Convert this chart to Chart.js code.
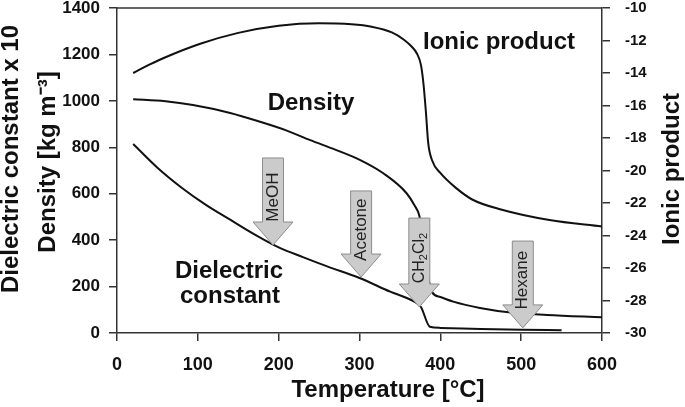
<!DOCTYPE html>
<html>
<head>
<meta charset="utf-8">
<script src="https://cdn.jsdelivr.net/npm/chart.js"></script>
<style>
html, body { margin: 0; padding: 0; background: #fff; }
canvas { display: block; }
</style>
</head>
<body>
<canvas id="myChart" width="685" height="407"></canvas>
<script>
"use strict";

// ionic product (right axis)
var ionicTemp = [20, 40, 60, 103, 150, 200, 250, 290, 315, 340, 355, 365, 371, 376, 379, 382, 385, 390, 400, 420, 440, 475, 535, 600];
var ionicVals = [-14.0, -13.49, -13.03, -12.2, -11.53, -11.09, -10.94, -11.0, -11.15, -11.5, -11.95, -12.4, -12.8, -13.5, -14.6, -16.3, -18.3, -19.4, -20.15, -21.1, -21.8, -22.4, -23.05, -23.45];

// density [kg m-3] (left axis)
var densTemp = [20, 60, 94, 140, 177, 210, 239, 270, 301, 329, 358, 368, 374, 379, 384, 390, 400, 416, 449, 490, 532, 600];
var densVals = [1007, 998, 982, 948, 910, 872, 831, 790, 745, 689, 603, 550, 505, 400, 260, 175, 155, 135, 108, 87, 78, 68];

// dielectric constant x 10 (left axis)
var dielTemp = [20, 50, 80, 110, 140, 170, 200, 230, 260, 300, 338, 366, 376, 387, 400, 450, 500, 550];
var dielVals = [814, 712, 626, 552, 488, 425, 369, 327, 287, 237, 178, 138, 112, 27, 22, 17, 14, 12];

// solvent arrows
var solvents = ["MeOH", "Acetone", "CH2Cl2", "Hexane"];
var solventTemp = [193, 302, 374, 502];
var arrowTop = [754, 612, 495, 396];
var arrowTip = [379, 241, 112, 22];

var xTicks = [0, 100, 200, 300, 400, 500, 600];

var FONT = '"Liberation Sans", Arial, Helvetica, sans-serif';
var INK = "#111";

function pts(xs, ys) {
    return xs.map(function (x, i) { return { x: x, y: ys[i] }; });
}

function noPad(s) {
    s.paddingTop = 0;
    s.paddingBottom = 0;
    s.paddingLeft = 0;
    s.paddingRight = 0;
}

Chart.defaults.font.family = FONT;

var drawExtras = {
    id: "extras",
    afterDatasetsDraw: function (chart) {
        var ctx = chart.ctx;
        var xs = chart.scales.x, ys = chart.scales.y;
        for (var i = 0; i < solvents.length; i++) {
            var cx = xs.getPixelForValue(solventTemp[i]);
            var top = ys.getPixelForValue(arrowTop[i]);
            var tip = ys.getPixelForValue(arrowTip[i]);
            var sw = 10.5, hw = 20, hl = 23;
            ctx.save();
            ctx.beginPath();
            ctx.moveTo(cx - sw, top);
            ctx.lineTo(cx + sw, top);
            ctx.lineTo(cx + sw, tip - hl);
            ctx.lineTo(cx + hw, tip - hl);
            ctx.lineTo(cx, tip);
            ctx.lineTo(cx - hw, tip - hl);
            ctx.lineTo(cx - sw, tip - hl);
            ctx.closePath();
            ctx.fillStyle = "#cbcbcb";
            ctx.fill();
            ctx.strokeStyle = "#8c8c8c";
            ctx.lineWidth = 1;
            ctx.stroke();

            // label, rotated
            ctx.translate(cx, top + 0.45 * (tip - top));
            ctx.rotate(-Math.PI / 2);
            ctx.fillStyle = "#222";
            ctx.textBaseline = "middle";
            if (solvents[i] === "CH2Cl2") {
                var parts = [["CH", 0], ["2", 1], ["Cl", 0], ["2", 1]];
                var total = 0;
                parts.forEach(function (p) {
                    ctx.font = (p[1] ? "11px " : "16px ") + FONT;
                    total += ctx.measureText(p[0]).width;
                });
                var x0 = -total / 2;
                ctx.textAlign = "left";
                parts.forEach(function (p) {
                    ctx.font = (p[1] ? "11px " : "16px ") + FONT;
                    ctx.fillText(p[0], x0, p[1] ? 5 : 0);
                    x0 += ctx.measureText(p[0]).width;
                });
            } else {
                ctx.font = "17px " + FONT;
                ctx.textAlign = "center";
                ctx.fillText(solvents[i], 0, 0);
            }
            ctx.restore();
        }
    },
    afterDraw: function (chart) {
        var ctx = chart.ctx;
        var a = chart.chartArea;
        ctx.save();
        // top frame line
        ctx.strokeStyle = "#333";
        ctx.lineWidth = 1.5;
        ctx.beginPath();
        ctx.moveTo(a.left, a.top);
        ctx.lineTo(a.right, a.top);
        ctx.stroke();

        ctx.fillStyle = INK;
        ctx.font = "bold 24px " + FONT;
        ctx.textBaseline = "alphabetic";
        ctx.textAlign = "left";
        ctx.fillText("Ionic product", 423, 49);
        ctx.textAlign = "center";
        ctx.fillText("Density", 311, 110);
        ctx.fillText("Dielectric", 229, 278);
        ctx.fillText("constant", 230, 303);
        ctx.fillText("Temperature [\u00B0C]", 388, 397);

        // left title (two lines)
        ctx.save();
        ctx.translate(18, 159);
        ctx.rotate(-Math.PI / 2);
        ctx.fillText("Dielectric constant x 10", 0, 0);
        ctx.restore();
        ctx.save();
        ctx.translate(55, 162);
        ctx.rotate(-Math.PI / 2);
        ctx.fillText("Density [kg m\u207B\u00B3]", 0, 0);
        ctx.restore();
        // right title
        ctx.save();
        ctx.translate(679, 169);
        ctx.rotate(-Math.PI / 2);
        ctx.fillText("Ionic product", 0, 0);
        ctx.restore();
        ctx.restore();
    }
};

var lineStyle = {
    borderColor: INK,
    borderWidth: 2,
    pointRadius: 0,
    fill: false,
    cubicInterpolationMode: "monotone"
};

var plain = function (v) { return String(v); };

var ctx = document.getElementById("myChart");
var myChart = new Chart(ctx, {
    type: "line",
    data: {
        datasets: [
            Object.assign({ label: "Ionic product", data: pts(ionicTemp, ionicVals), yAxisID: "y2" }, lineStyle),
            Object.assign({ label: "Density", data: pts(densTemp, densVals), yAxisID: "y" }, lineStyle),
            Object.assign({ label: "Dielectric constant", data: pts(dielTemp, dielVals), yAxisID: "y" }, lineStyle)
        ]
    },
    options: {
        responsive: false,
        animation: false,
        layout: { padding: { top: 8, left: 0, right: 0, bottom: 0 } },
        plugins: { legend: { display: false }, tooltip: { enabled: false } },
        scales: {
            x: {
                type: "linear",
                position: "bottom",
                min: 0,
                max: 600,
                afterBuildTicks: function (s) { s.ticks = xTicks.map(function (v) { return { value: v }; }); },
                afterFit: function (s) { s.height = 74; noPad(s); },
                ticks: { color: INK, padding: 13, font: { size: 18, weight: "bold" }, callback: plain },
                grid: { drawOnChartArea: false, tickLength: 8, color: "#333", lineWidth: 1.5 },
                border: { color: "#333", width: 1.5 }
            },
            y: {
                position: "left",
                min: 0,
                max: 1400,
                afterFit: function (s) { s.width = 117; noPad(s); },
                ticks: { stepSize: 200, color: INK, padding: 9, font: { size: 17, weight: "bold" }, callback: plain },
                grid: { drawOnChartArea: false, tickLength: 8, color: "#333", lineWidth: 1.5 },
                border: { color: "#333", width: 1.5 }
            },
            y2: {
                position: "right",
                min: -30,
                max: -10,
                afterFit: function (s) { s.width = 83; noPad(s); },
                ticks: { stepSize: 2, color: INK, padding: 15, font: { size: 15, weight: "bold" }, callback: plain },
                grid: { drawOnChartArea: false, tickLength: 8, color: "#333", lineWidth: 1.5 },
                border: { color: "#333", width: 1.5 }
            }
        }
    },
    plugins: [drawExtras]
});
</script>
</body>
</html>
